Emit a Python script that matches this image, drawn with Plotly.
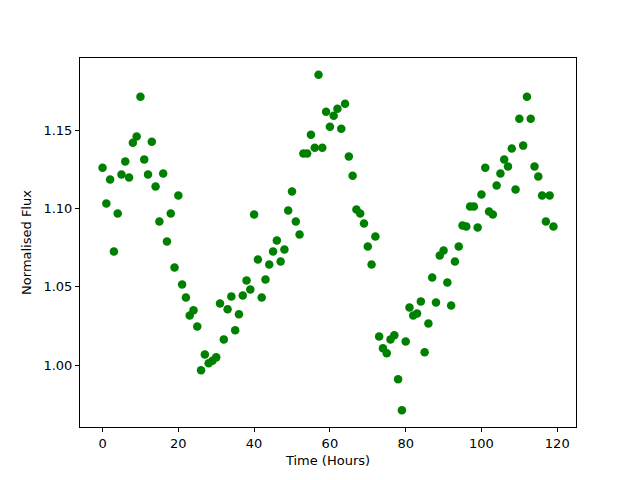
import plotly.graph_objects as go

time_hours = list(range(120))
flux = [
    1.1262, 1.1033, 1.1186, 1.0726, 1.0969, 1.1218, 1.1301, 1.1199, 1.1422, 1.1462,
    1.1716, 1.1315, 1.1218, 1.1428, 1.1141, 1.0918, 1.1224, 1.0790, 1.0969, 1.0624,
    1.1084, 1.0515, 1.0432, 1.0317, 1.0351, 1.0247, 0.9966, 1.0068, 1.0011, 1.0028,
    1.0049, 1.0394, 1.0164, 1.0356, 1.0439, 1.0222, 1.0324, 1.0445, 1.0541, 1.0483,
    1.0962, 1.0675, 1.0432, 1.0547, 1.0643, 1.0726, 1.0796, 1.0662, 1.0739, 1.0988,
    1.1109, 1.0918, 1.0835, 1.1352, 1.1352, 1.1473, 1.1390, 1.1856, 1.1390, 1.1620,
    1.1524, 1.1594, 1.1639, 1.1511, 1.1671, 1.1333, 1.1211, 1.0994, 1.0969, 1.0905,
    1.0758, 1.0643, 1.0822, 1.0183, 1.0107, 1.0075, 1.0164, 1.0190, 0.9909, 0.9711,
    1.0151, 1.0368, 1.0317, 1.0330, 1.0407, 1.0081, 1.0266, 1.0560, 1.0400, 1.0700,
    1.0732, 1.0528, 1.0381, 1.0662, 1.0758, 1.0892, 1.0886, 1.1013, 1.1013, 1.0879,
    1.1090, 1.1262, 1.0981, 1.0962, 1.1148, 1.1224, 1.1314, 1.1269, 1.1384, 1.1122,
    1.1575, 1.1403, 1.1716, 1.1575, 1.1269, 1.1205, 1.1084, 1.0918, 1.1084, 1.0886,
]
x_ticks = [0, 20, 40, 60, 80, 100, 120]
y_ticks = [1.00, 1.05, 1.10, 1.15]

xmin, xmax = min(time_hours), max(time_hours)
ymin, ymax = min(flux), max(flux)
xm = (xmax - xmin) * 0.05
ym = (ymax - ymin) * 0.05

fig = go.Figure(go.Scatter(
    x=time_hours, y=flux, mode="markers",
    marker=dict(color="#008000", size=8.5, line=dict(width=0)),
))

axis_common = dict(
    showline=True, linecolor="black", linewidth=1, mirror=True,
    ticks="outside", ticklen=4, tickwidth=1, tickcolor="black",
    showgrid=False, zeroline=False,
    tickfont=dict(family="DejaVu Sans", size=13, color="black"),
)

fig.update_layout(
    width=640, height=480,
    margin=dict(l=72, r=72, t=50, b=61),
    plot_bgcolor="white", paper_bgcolor="white",
    showlegend=False,
    font=dict(family="DejaVu Sans", size=13, color="black"),
    xaxis=dict(
        range=[xmin - xm, xmax + xm], tickvals=x_ticks,
        title=dict(text="Time (Hours)", standoff=6, font=dict(size=13)),
        **axis_common,
    ),
    yaxis=dict(
        range=[ymin - ym, ymax + ym], tickvals=y_ticks, tickformat=".2f",
        title=dict(text="Normalised Flux", standoff=8, font=dict(size=13)),
        **axis_common,
    ),
)

fig.write_html("out.html")
